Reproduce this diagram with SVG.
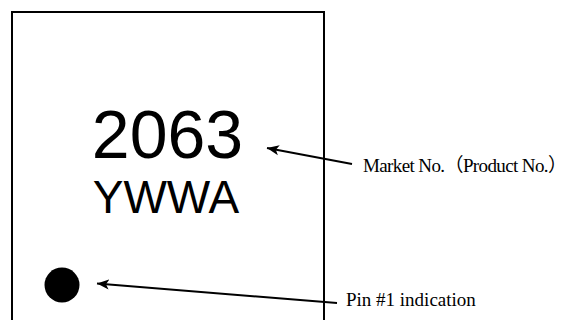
<svg xmlns="http://www.w3.org/2000/svg" width="568" height="320" viewBox="0 0 568 320">
<style>
.body{fill:#fff;stroke:#000;stroke-width:2}
.mark{font-family:"Liberation Sans",Arial,sans-serif;fill:#000;text-anchor:middle}
.lbl{font-family:"Liberation Serif","Times New Roman","Noto Sans CJK JP",serif;font-size:19px;fill:#000}
.conn{stroke:#000;stroke-width:2;fill:none;marker-end:url(#ah)}
</style>
<defs>
<marker id="ah" markerUnits="userSpaceOnUse" markerWidth="14" markerHeight="12" refX="12" refY="5" orient="auto" viewBox="0 0 14 10">
<path d="M0,0 L12,5 L0,10 L3,5 Z" fill="#000"/>
</marker>
</defs>
<rect width="568" height="320" fill="#fff"/>
<g id="package">
<rect class="body" x="12" y="12" width="312" height="320"/>
<text class="mark" x="167.5" y="158" font-size="68">2063</text>
<text class="mark" x="166" y="213" font-size="46">YWWA</text>
<circle cx="62" cy="285" r="17.5" fill="#000"/>
</g>
<g id="connectors">
<line class="conn" x1="352" y1="164" x2="267" y2="148"/>
<line class="conn" x1="337" y1="303" x2="97" y2="283.5"/>
</g>
<g id="label-market">
<text class="lbl" x="363" y="172" textLength="204" lengthAdjust="spacing">Market No.（Product No.）</text>
</g>
<g id="label-pin">
<text class="lbl" x="346" y="306">Pin #1 indication</text>
</g>
</svg>
